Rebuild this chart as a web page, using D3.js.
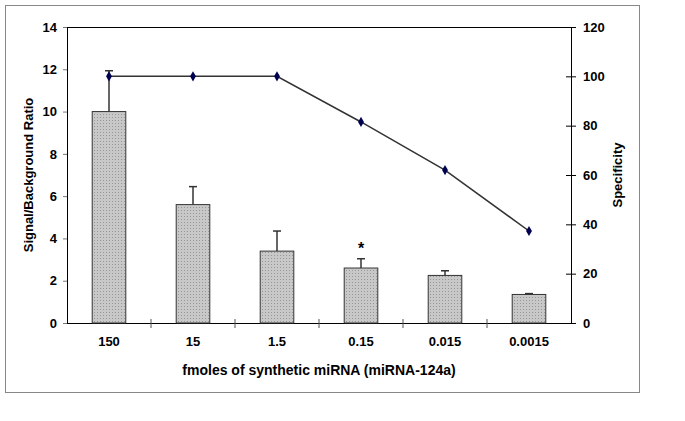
<!DOCTYPE html>
<html>
<head>
<meta charset="utf-8">
<script src="https://cdn.jsdelivr.net/npm/d3@7"></script>
<style>
  body { margin: 0; background: #fff; }
  text { font-family: Arial, "Liberation Sans", sans-serif; font-weight: bold; fill: #000; }
</style>
</head>
<body>
<svg width="685" height="421"></svg>
<script>
// chart values
const categories = ['150', '15', '1.5', '0.15', '0.015', '0.0015']
const ratio = [10, 5.6, 3.4, 2.6, 2.25, 1.35]
const ratioErr = [11.93, 6.45, 4.35, 3.04, 2.47, 1.39]
const specificity = [100, 100, 100, 81.5, 62, 37.3]
const leftTicks = [0, 2, 4, 6, 8, 10, 12, 14]
const rightTicks = [0, 20, 40, 60, 80, 100, 120]
const starred = ['0.15']

const svg = d3.select('svg')

// outer frame
svg.append('rect')
    .attr('x', 5.5).attr('y', 5.5)
    .attr('width', 634).attr('height', 387)
    .attr('fill', 'none').attr('stroke', '#888').attr('stroke-width', 1)

// dotted grey fill for the bars
const pat = svg.append('defs').append('pattern')
    .attr('id', 'dots').attr('patternUnits', 'userSpaceOnUse')
    .attr('width', 3).attr('height', 3)
pat.append('rect').attr('width', 3).attr('height', 3).attr('fill', '#c8c8c8')
pat.append('rect').attr('width', 1).attr('height', 1).attr('fill', '#969696')

const margin = {top: 27, right: 114, bottom: 98, left: 67}
const width = 685, height = 421
const innerWidth = width - margin.left - margin.right
const innerHeight = height - margin.top - margin.bottom

const xScale = d3.scaleBand()
    .domain(categories)
    .range([0, innerWidth])

const yScale = d3.scaleLinear().domain([0, 14]).range([innerHeight, 0])
const y2Scale = d3.scaleLinear().domain([0, 120]).range([innerHeight, 0])

const g = svg.append('g')
    .attr('transform', `translate(${margin.left},${margin.top})`)

// top border of plot area
g.append('line')
    .attr('x1', 0).attr('x2', innerWidth).attr('y1', 0.5).attr('y2', 0.5)
    .attr('stroke', '#000')

// left axis
const yAxis = g.append('g')
    .call(d3.axisLeft(yScale).tickValues(leftTicks).tickSize(4).tickPadding(6).tickSizeOuter(0))
yAxis.selectAll('text').style('font-size', '13px')
yAxis.selectAll('.tick line').attr('stroke', '#777')
yAxis.select('.domain').attr('stroke', '#000')

// right axis, ticks cross the line
const y2Axis = g.append('g')
    .attr('transform', `translate(${innerWidth},0)`)
    .call(d3.axisRight(y2Scale).tickValues(rightTicks).tickSize(5).tickPadding(7).tickSizeOuter(0))
y2Axis.selectAll('.tick line').attr('x1', -5)
y2Axis.selectAll('text').style('font-size', '13px')

// x axis, ticks at the category boundaries
const xAxis = g.append('g')
    .attr('transform', `translate(0,${innerHeight})`)
    .call(d3.axisBottom(xScale).tickSize(0).tickPadding(14))
xAxis.selectAll('text').style('font-size', '13px')
xAxis.select('.domain').remove()
g.append('line')
    .attr('x1', 0).attr('x2', innerWidth)
    .attr('y1', innerHeight + 0.5).attr('y2', innerHeight + 0.5)
    .attr('stroke', '#000')
g.selectAll('.xtick').data(categories.slice(1))
    .enter().append('line')
    .attr('x1', d => xScale(d)).attr('x2', d => xScale(d))
    .attr('y1', innerHeight - 4).attr('y2', innerHeight + 5)
    .attr('stroke', '#555')

const barW = xScale.bandwidth() * 0.4
const cx = d => xScale(d) + xScale.bandwidth() / 2

// error bars first so the bars sit over them
categories.forEach((c, i) => {
    g.append('line')
        .attr('x1', cx(c)).attr('x2', cx(c))
        .attr('y1', yScale(ratio[i])).attr('y2', yScale(ratioErr[i]))
        .attr('stroke', '#333').attr('stroke-width', 1.5)
    g.append('line')
        .attr('x1', cx(c) - 4).attr('x2', cx(c) + 4)
        .attr('y1', yScale(ratioErr[i])).attr('y2', yScale(ratioErr[i]))
        .attr('stroke', '#333').attr('stroke-width', 1.5)
})

g.selectAll('.bar').data(categories)
    .enter().append('rect')
    .attr('x', d => cx(d) - barW / 2)
    .attr('y', (d, i) => yScale(ratio[i]))
    .attr('width', barW)
    .attr('height', (d, i) => innerHeight - yScale(ratio[i]))
    .attr('fill', 'url(#dots)')
    .attr('stroke', '#333').attr('stroke-width', 1)

// specificity line
const line = d3.line()
    .x((d, i) => cx(categories[i]))
    .y(d => y2Scale(d))
g.append('path').datum(specificity)
    .attr('d', line)
    .attr('fill', 'none').attr('stroke', '#333').attr('stroke-width', 1.5)

g.selectAll('.marker').data(specificity)
    .enter().append('path')
    .attr('d', d3.symbol(d3.symbolDiamond, 30))
    .attr('transform', (d, i) => `translate(${cx(categories[i])},${y2Scale(d)})`)
    .attr('fill', '#000050')

// significance star
g.selectAll('.star').data(starred)
    .enter().append('text')
    .attr('x', d => cx(d))
    .attr('y', d => yScale(ratioErr[categories.indexOf(d)]) - 5)
    .attr('text-anchor', 'middle')
    .style('font-size', '16px')
    .text('*')

// axis titles
g.append('text')
    .attr('x', innerWidth / 2).attr('y', innerHeight + 52)
    .attr('text-anchor', 'middle').style('font-size', '14px')
    .text('fmoles of synthetic miRNA (miRNA-124a)')

g.append('text')
    .attr('transform', `translate(-34,${innerHeight / 2}) rotate(-90)`)
    .attr('text-anchor', 'middle').style('font-size', '13px')
    .text('Signal/Background Ratio')

g.append('text')
    .attr('transform', `translate(${innerWidth + 51},${innerHeight / 2}) rotate(-90)`)
    .attr('text-anchor', 'middle').style('font-size', '13px')
    .text('Specificity')
</script>
</body>
</html>
